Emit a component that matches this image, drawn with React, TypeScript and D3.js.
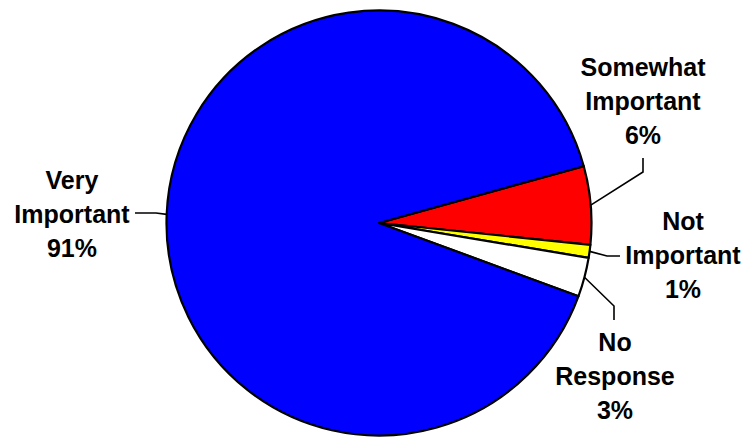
import React from "react";
import * as d3 from "d3";

// Survey responses, drawn clockwise starting from "Somewhat Important"
const categories = ["Somewhat Important", "Not Important", "No Response", "Very Important"];
const values = [6, 1, 3, 91];
const colors = ["#ff0000", "#ffff00", "#ffffff", "#0000ff"];

// Label placement: text centre, first baseline, and leader elbow/end points
const labelLayout = [
  { x: 643, y: 76, path: [[643, 172], [643, 158]] },
  { x: 683, y: 230, path: [[607, 256], [620, 256]] },
  { x: 615, y: 351, path: [[614, 306], [614, 320]] },
  { x: 72, y: 189, path: [[156, 213], [135, 213]] },
];

const W = 747;
const H = 437;
const cx = 379;
const cy = 223;
const R = 212.5;
const startDeg = 74.5;
const lineH = 34;

export default function App() {
  const pie = d3
    .pie<number>()
    .sort(null)
    .value((d) => d)
    .startAngle((startDeg * Math.PI) / 180)
    .endAngle((startDeg * Math.PI) / 180 + 2 * Math.PI);
  const arcs = pie(values);
  const arc = d3.arc<d3.PieArcDatum<number>>().innerRadius(0).outerRadius(R);
  const line = d3.line();

  return (
    <svg
      width={W}
      height={H}
      style={{ position: "absolute", left: 0, top: 0, background: "#fff" }}
    >
      <g transform={`translate(${cx},${cy})`}>
        {arcs.map((a, i) => (
          <path
            key={categories[i]}
            d={arc(a) || ""}
            fill={colors[i]}
            stroke="#000"
            strokeWidth={2.2}
            strokeLinejoin="round"
          />
        ))}
      </g>
      {arcs.map((a, i) => {
        const mid = (a.startAngle + a.endAngle) / 2;
        const ex = cx + Math.sin(mid) * R;
        const ey = cy - Math.cos(mid) * R;
        const pts: [number, number][] = [[ex, ey], ...(labelLayout[i].path as [number, number][])];
        return (
          <path
            key={"leader-" + categories[i]}
            d={line(pts) || ""}
            fill="none"
            stroke="#000"
            strokeWidth={1.6}
          />
        );
      })}
      {categories.map((c, i) => {
        const lines = [...c.split(" "), `${values[i]}%`];
        const L = labelLayout[i];
        return (
          <text
            key={"label-" + c}
            x={L.x}
            y={L.y}
            textAnchor="middle"
            fontFamily="'Liberation Sans', Arial, sans-serif"
            fontWeight="bold"
            fontSize={25}
            fill="#000"
          >
            {lines.map((t, j) => (
              <tspan key={j} x={L.x} y={L.y + j * lineH}>
                {t}
              </tspan>
            ))}
          </text>
        );
      })}
    </svg>
  );
}
